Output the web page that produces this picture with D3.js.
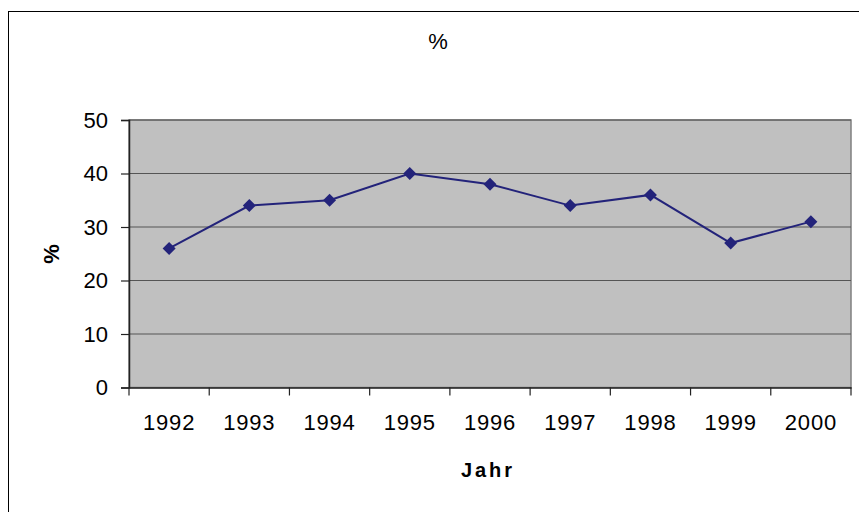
<!DOCTYPE html>
<html><head><meta charset="utf-8">
<script src="https://cdn.jsdelivr.net/npm/d3@7"></script>
<style>body{margin:0;background:#fff}svg{display:block}text{font-family:"Liberation Sans",Arial,sans-serif;fill:#000}</style>
</head><body>
<script>
const years = ["1992","1993","1994","1995","1996","1997","1998","1999","2000"];
const values = [26, 34, 35, 40, 38, 34, 36, 27, 31];
const yTicks = [0, 10, 20, 30, 40, 50];
const title = "%";
const yTitle = "%";
const xTitle = "Jahr";

const W = 859, H = 512;
const svg = d3.select("body").append("svg").attr("width", W).attr("height", H);
svg.append("rect").attr("x", 8.5).attr("y", 11.5).attr("width", 900).attr("height", 600)
  .attr("fill", "#fff").attr("stroke", "#000").attr("stroke-width", 1);

const L = 129, R = 851, T = 120, B = 387.5;
const x = d3.scaleBand().domain(years).range([L, R]);
const y = d3.scaleLinear().domain([0, 50]).range([B, T]);

svg.append("rect").attr("x", L).attr("y", T).attr("width", R - L).attr("height", B - T)
  .attr("fill", "#c0c0c0").attr("stroke", "#808080").attr("stroke-width", 1.5);

svg.append("g").selectAll("line").data(yTicks.filter(d => d > 0)).join("line")
  .attr("x1", L).attr("x2", R).attr("y1", d => y(d)).attr("y2", d => y(d))
  .attr("stroke", "#555").attr("stroke-width", 1.2);

// y axis
const ya = svg.append("g").attr("transform", `translate(${L},0)`)
  .call(d3.axisLeft(y).tickValues(yTicks).tickSize(8).tickPadding(13));
ya.select(".domain").attr("stroke", "#222").attr("stroke-width", 1.5);
ya.selectAll(".tick line").attr("stroke", "#222").attr("stroke-width", 1.2);
ya.selectAll("text").attr("font-size", 22).attr("font-family", "Liberation Sans, Arial, sans-serif").attr("fill", "#000");

// x axis
const xa = svg.append("g").attr("transform", `translate(0,${B})`)
  .call(d3.axisBottom(x).tickSize(0).tickPadding(27));
xa.select(".domain").attr("stroke", "#222").attr("stroke-width", 1.5);
xa.selectAll("text").attr("font-size", 22).attr("letter-spacing", 0.8).attr("font-family", "Liberation Sans, Arial, sans-serif").attr("fill", "#000");
const bounds = years.map(d => x(d)).concat([R]);
svg.append("g").selectAll("line").data(bounds).join("line")
  .attr("x1", d => d).attr("x2", d => d).attr("y1", B).attr("y2", B + 8)
  .attr("stroke", "#222").attr("stroke-width", 1.2);

// line
const cx = d => x(d) + x.bandwidth() / 2;
svg.append("path").datum(values.map((v, i) => [years[i], v]))
  .attr("fill", "none").attr("stroke", "#23237a").attr("stroke-width", 2)
  .attr("d", d3.line().x(d => cx(d[0])).y(d => y(d[1])));
svg.append("g").selectAll("path").data(values.map((v, i) => [years[i], v])).join("path")
  .attr("transform", d => `translate(${cx(d[0])},${y(d[1])})`)
  .attr("d", "M0,-6.5L6.5,0L0,6.5L-6.5,0Z").attr("fill", "#23237a");

// titles
svg.append("text").attr("x", 438).attr("y", 49).attr("text-anchor", "middle")
  .attr("font-size", 22).text(title);
svg.append("text").attr("transform", "translate(59,254) rotate(-90)").attr("text-anchor", "middle")
  .attr("font-size", 22).attr("font-weight", "bold").text(yTitle);
svg.append("text").attr("x", 488).attr("y", 477).attr("text-anchor", "middle")
  .attr("font-size", 20).attr("font-weight", "bold").attr("letter-spacing", 3).text(xTitle);
</script>
</body></html>
